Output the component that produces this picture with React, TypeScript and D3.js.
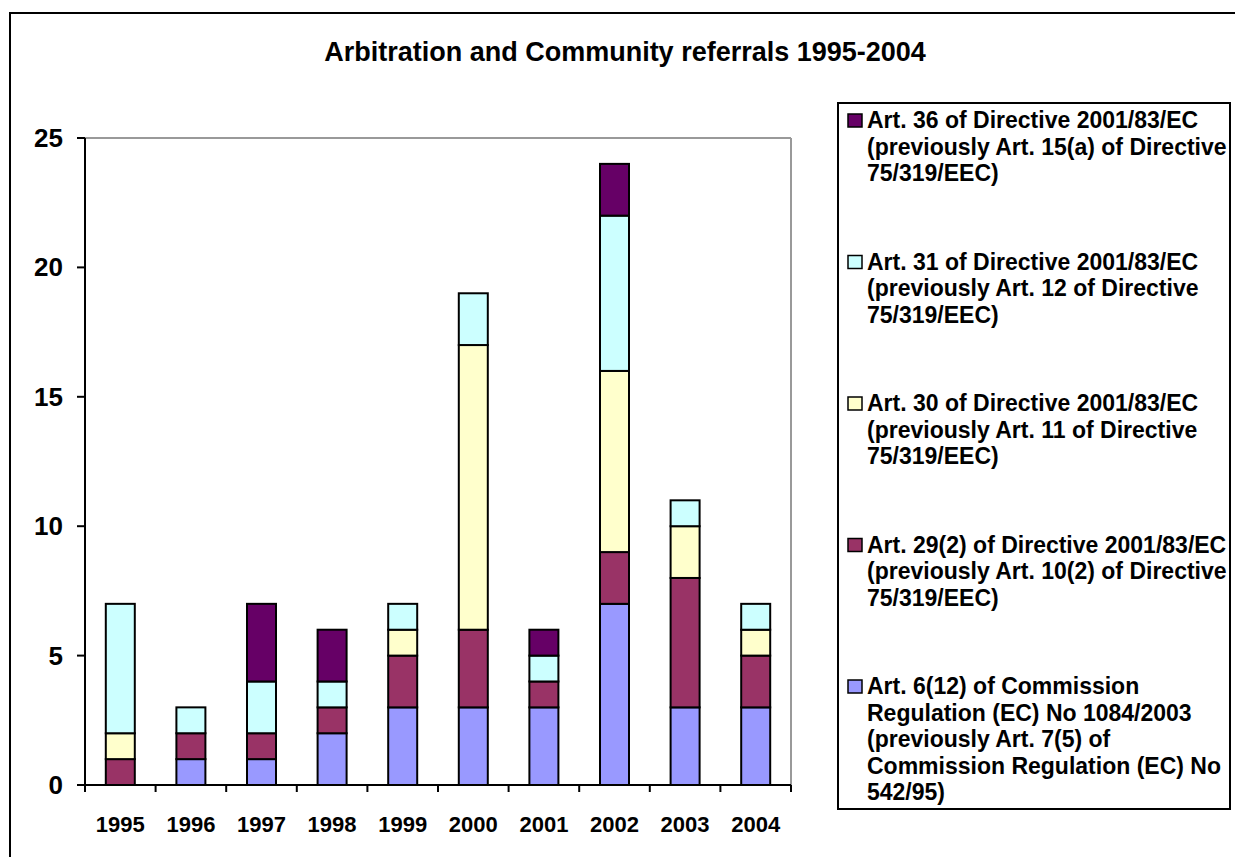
import * as d3 from "d3"

const years = ["1995", "1996", "1997", "1998", "1999", "2000", "2001", "2002", "2003", "2004"]

// stacked bottom → top
const art612 = [0, 1, 1, 2, 3, 3, 3, 7, 3, 3]
const art292 = [1, 1, 1, 1, 2, 3, 1, 2, 5, 2]
const art30 = [1, 0, 0, 0, 1, 11, 0, 7, 2, 1]
const art31 = [5, 1, 2, 1, 1, 2, 1, 6, 1, 1]
const art36 = [0, 0, 3, 2, 0, 0, 1, 2, 0, 0]

const yTicks = [0, 5, 10, 15, 20, 25]

const seriesKeys = ["art612", "art292", "art30", "art31", "art36"]
const seriesColors = ["#9999FF", "#993366", "#FFFFCC", "#CCFFFF", "#660066"]
const seriesLabels = [
  ["Art. 6(12) of Commission", "Regulation (EC) No 1084/2003", "(previously Art. 7(5) of", "Commission Regulation (EC) No", "542/95)"],
  ["Art. 29(2) of Directive 2001/83/EC", "(previously Art. 10(2) of Directive", "75/319/EEC)"],
  ["Art. 30 of Directive 2001/83/EC", "(previously Art. 11 of Directive", "75/319/EEC)"],
  ["Art. 31 of Directive 2001/83/EC", "(previously Art. 12 of Directive", "75/319/EEC)"],
  ["Art. 36 of Directive 2001/83/EC", "(previously Art. 15(a) of Directive", "75/319/EEC)"],
]

const FONT = "'Liberation Sans', Arial, sans-serif"

export default function App() {
  const left = 85
  const right = 791
  const top = 138
  const bottom = 785

  const rows = years.map((year, i) => ({
    year,
    art612: art612[i],
    art292: art292[i],
    art30: art30[i],
    art31: art31[i],
    art36: art36[i],
  }))
  const stacked = d3.stack<any>().keys(seriesKeys)(rows)

  const x = d3.scaleBand().domain(years).range([left, right]).paddingInner(0).paddingOuter(0)
  const y = d3.scaleLinear().domain([0, 25]).range([bottom, top])
  const barW = 29

  // legend
  const legX = 838
  const legY = 103
  const legW = 392
  const legH = 706
  const entryBase = d3.scaleLinear().domain([4, 0]).range([128, 694])
  const lineH = 26.5

  return (
    <svg
      width={1235}
      height={857}
      style={{ position: "absolute", left: 0, top: 0, background: "#fff" }}
      fontFamily={FONT}
    >
      <rect x={10} y={13} width={1240} height={870} fill="#fff" stroke="#000" strokeWidth={2} />

      <text x={625} y={61} textAnchor="middle" fontSize={27} fontWeight="bold">
        Arbitration and Community referrals 1995-2004
      </text>

      {/* plot frame */}
      <line x1={left} x2={right} y1={top} y2={top} stroke="#999" strokeWidth={2} />
      <line x1={right} x2={right} y1={top} y2={bottom} stroke="#999" strokeWidth={2} />

      {/* bars */}
      {stacked.map((s, si) =>
        s.map((d, i) => {
          const h = y(d[0]) - y(d[1])
          if (h <= 0) return null
          const cx = x(years[i])! + x.bandwidth() / 2
          return (
            <rect
              key={`${si}-${i}`}
              x={cx - barW / 2}
              y={y(d[1])}
              width={barW}
              height={h}
              fill={seriesColors[si]}
              stroke="#000"
              strokeWidth={2}
            />
          )
        }),
      )}

      {/* y axis */}
      <line x1={left} x2={left} y1={top} y2={bottom} stroke="#000" strokeWidth={2} />
      {yTicks.map((t) => (
        <g key={t}>
          <line x1={left - 8} x2={left} y1={y(t)} y2={y(t)} stroke="#000" strokeWidth={2} />
          <text x={63} y={y(t) + 9} textAnchor="end" fontSize={26} fontWeight="bold">
            {t}
          </text>
        </g>
      ))}

      {/* x axis */}
      <line x1={left} x2={right} y1={bottom} y2={bottom} stroke="#000" strokeWidth={2} />
      {[...years.map((yr) => x(yr)!), right].map((xx, i) => (
        <line key={i} x1={xx} x2={xx} y1={bottom} y2={bottom + 7} stroke="#000" strokeWidth={2} />
      ))}
      {years.map((yr) => (
        <text key={yr} x={x(yr)! + x.bandwidth() / 2} y={832} textAnchor="middle" fontSize={22} fontWeight="bold">
          {yr}
        </text>
      ))}

      {/* legend */}
      <rect x={legX} y={legY} width={legW} height={legH} fill="#fff" stroke="#000" strokeWidth={2} />
      {seriesLabels.map((lines, si) => {
        const b = entryBase(si)
        return (
          <g key={si}>
            <rect x={848} y={b - 14} width={14} height={13} fill={seriesColors[si]} stroke="#000" strokeWidth={1.5} />
            {lines.map((ln, li) => (
              <text key={li} x={867} y={b + li * lineH} fontSize={23} fontWeight="bold">
                {ln}
              </text>
            ))}
          </g>
        )
      })}
    </svg>
  )
}
